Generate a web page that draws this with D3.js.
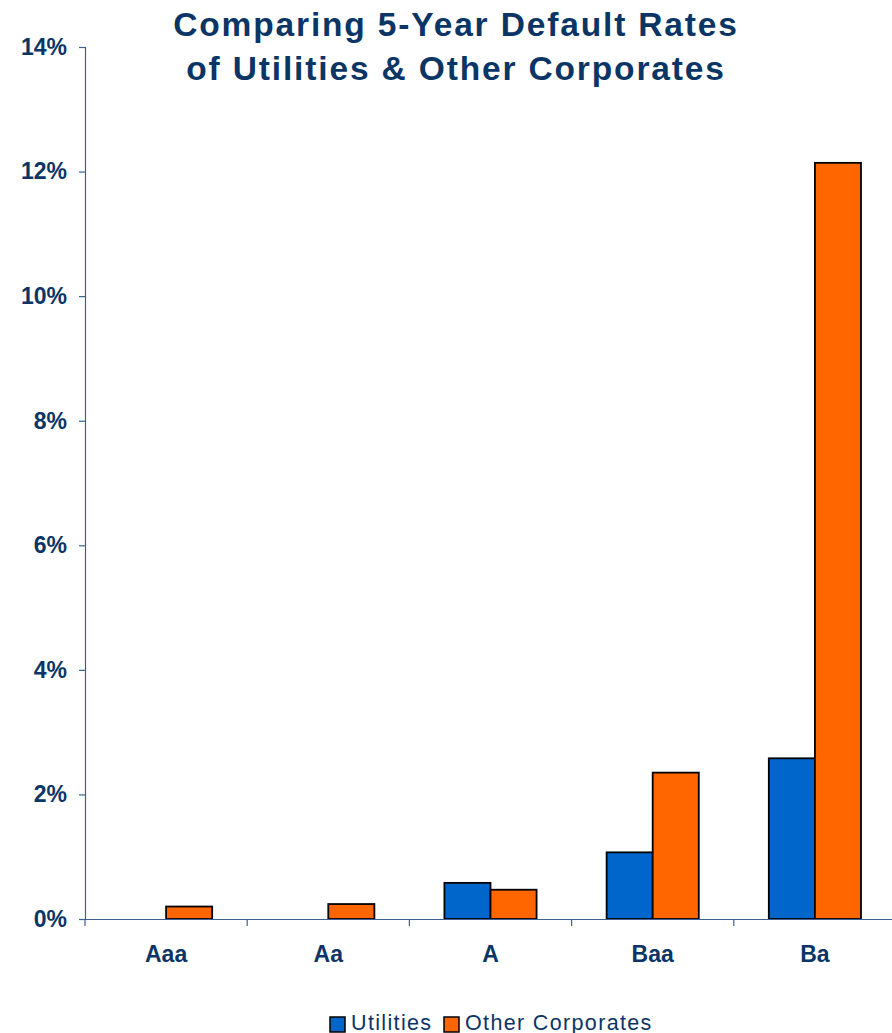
<!DOCTYPE html>
<html>
<head>
<meta charset="utf-8">
<script src="https://cdn.jsdelivr.net/npm/d3@7"></script>
<style>
  body { margin: 0; background: #fff; }
  svg { display: block; font-family: "Liberation Sans", Arial, sans-serif; }
</style>
</head>
<body>
<svg id="chart" width="892" height="1033"></svg>
<script>
// Five-year cumulative default rates by rating class (%)
const categories = ["Aaa", "Aa", "A", "Baa", "Ba"];
const seriesNames = ["Utilities", "Other Corporates"];
const utilities = [0, 0, 0.58, 1.07, 2.58];
const otherCorporates = [0.20, 0.24, 0.47, 2.35, 12.14];
const yTicks = [0, 2, 4, 6, 8, 10, 12, 14];
const titleLines = ["Comparing 5-Year Default Rates", "of Utilities & Other Corporates"];

const colors = { "Utilities": "#0066CC", "Other Corporates": "#FF6600" };
const navy = "#0B3565";
const axisColor = "#3F5F8F";

const svg = d3.select("#chart");
const margin = { left: 85, top: 47, right: -4, bottom: 114 };
const W = 892, H = 1033;

const x = d3.scaleBand().domain(categories).range([margin.left, W - margin.right]).paddingInner(0).paddingOuter(0);
const xInner = d3.scaleBand().domain(seriesNames).range([0, x.bandwidth()]).paddingInner(0).paddingOuter(0.76);
const y = d3.scaleLinear().domain([0, 14]).range([H - margin.bottom, margin.top]);

// Title
svg.append("g").selectAll("text").data(titleLines).join("text")
  .attr("x", 456).attr("y", (d, i) => 36 + i * 43.5)
  .attr("text-anchor", "middle")
  .attr("font-size", 33.5).attr("font-weight", "bold").attr("fill", navy)
  .attr("letter-spacing", 1.85)
  .text(d => d);

// Y axis
const yAxis = svg.append("g")
  .attr("transform", `translate(${margin.left},0)`)
  .call(d3.axisLeft(y).tickValues(yTicks).tickFormat(d => d + "%").tickSize(6).tickPadding(12));
yAxis.select(".domain").attr("stroke", axisColor).attr("stroke-width", 1.2);
yAxis.selectAll(".tick line").attr("stroke", axisColor).attr("stroke-width", 1.2);
yAxis.selectAll(".tick text").attr("font-size", 23).attr("font-weight", "bold").attr("fill", navy)
  .attr("font-family", "Liberation Sans, Arial, sans-serif");

// Bars
const rows = categories.map((c, i) => ({ cat: c, values: [
  { name: "Utilities", v: utilities[i] },
  { name: "Other Corporates", v: otherCorporates[i] }
]}));

const groups = svg.append("g").selectAll("g").data(rows).join("g")
  .attr("transform", d => `translate(${x(d.cat)},0)`);
groups.selectAll("rect").data(d => d.values.filter(v => v.v > 0)).join("rect")
  .attr("x", d => xInner(d.name))
  .attr("width", xInner.bandwidth())
  .attr("y", d => y(d.v))
  .attr("height", d => y(0) - y(d.v))
  .attr("fill", d => colors[d.name])
  .attr("stroke", "#000").attr("stroke-width", 1.8);

// X axis
const xAxis = svg.append("g")
  .attr("transform", `translate(0,${y(0)})`)
  .call(d3.axisBottom(x).tickSize(0).tickPadding(27));
xAxis.select(".domain").attr("stroke", axisColor).attr("stroke-width", 1.2);
xAxis.selectAll(".tick text").attr("font-size", 23).attr("font-weight", "bold").attr("fill", navy)
  .attr("font-family", "Liberation Sans, Arial, sans-serif");
// category separators
xAxis.append("g").selectAll("line").data(categories).join("line")
  .attr("x1", d => x(d)).attr("x2", d => x(d))
  .attr("y1", 0).attr("y2", 7)
  .attr("stroke", axisColor).attr("stroke-width", 1.2);

// Legend
const legend = svg.append("g").attr("transform", "translate(330,1016)");
const legendItems = [
  { name: "Utilities", x: 0 },
  { name: "Other Corporates", x: 114 }
];
const li = legend.selectAll("g").data(legendItems).join("g")
  .attr("transform", d => `translate(${d.x},0)`);
li.append("rect").attr("x", 0).attr("y", 1).attr("width", 15).attr("height", 15)
  .attr("fill", d => colors[d.name]).attr("stroke", "#000").attr("stroke-width", 1.5);
li.append("text").attr("x", 21).attr("y", 13.5)
  .attr("font-size", 21.5).attr("fill", navy).attr("letter-spacing", 1.35)
  .text(d => d.name);
</script>
</body>
</html>
